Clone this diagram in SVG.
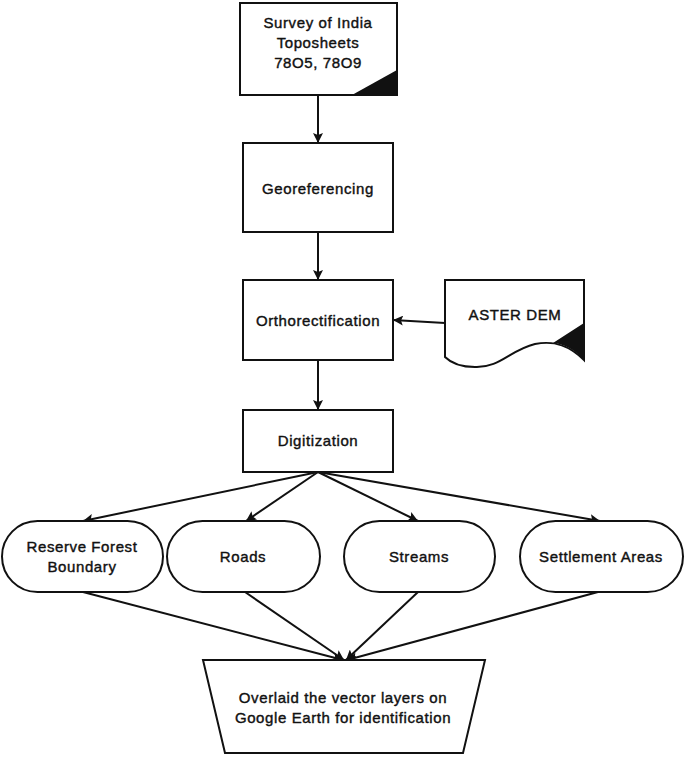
<svg xmlns="http://www.w3.org/2000/svg" width="685" height="758" viewBox="0 0 685 758">
<defs>
<marker id="ah" viewBox="0 0 10 10" refX="10" refY="5" markerWidth="10" markerHeight="10" markerUnits="userSpaceOnUse" orient="auto">
<path d="M0,0 L10,5 L0,10 L2,5 Z" fill="#111"/>
</marker>
</defs>
<style>
.s{fill:#fff;stroke:#111;stroke-width:2}
.t{font-family:"Liberation Sans",Arial,sans-serif;font-size:15px;letter-spacing:0.6px;fill:#111;stroke:#111;stroke-width:0.4;text-anchor:middle}
.c{fill:none;stroke:#111;stroke-width:2;marker-end:url(#ah)}
.dk{fill:#111;stroke:none}
</style>
<rect width="685" height="758" fill="#fff"/>
<g id="connectors">
<line class="c" x1="318" y1="95" x2="318" y2="143"/>
<line class="c" x1="318" y1="232" x2="318" y2="280"/>
<line class="c" x1="318" y1="360" x2="318" y2="410"/>
<line class="c" x1="445" y1="323" x2="393" y2="320"/>
<line class="c" x1="318" y1="472" x2="83" y2="521"/>
<line class="c" x1="318" y1="472" x2="246" y2="521"/>
<line class="c" x1="318" y1="472" x2="418" y2="521"/>
<line class="c" x1="318" y1="472" x2="600" y2="521"/>
<line class="c" x1="83" y1="592" x2="343" y2="660"/>
<line class="c" x1="245" y1="592" x2="344" y2="660"/>
<line class="c" x1="418" y1="592" x2="346" y2="660"/>
<line class="c" x1="598" y1="592" x2="347" y2="660"/>
</g>
<g id="toposheets">
<rect class="s" x="240" y="3" width="157" height="92"/>
<path class="dk" d="M352,95 L397,70 L397,95 Z"/>
<text class="t" x="318" y="28">Survey of India</text>
<text class="t" x="318" y="48">Toposheets</text>
<text class="t" x="318" y="68">78O5, 78O9</text>
</g>
<g id="georeferencing">
<rect class="s" x="243" y="143" width="150" height="89"/>
<text class="t" x="318" y="194">Georeferencing</text>
</g>
<g id="orthorectification">
<rect class="s" x="243" y="280" width="150" height="80"/>
<text class="t" x="318" y="326">Orthorectification</text>
</g>
<g id="aster-dem">
<path class="s" d="M445,280 L584,280 L584,360 C570,346 555,340 535,344 C510,350 500,368 475,367 C460,367 450,362 445,357 Z"/>
<path class="dk" d="M553,343 L584,323 L584,360 C575,350 565,344 553,343 Z"/>
<text class="t" x="515" y="320">ASTER DEM</text>
</g>
<g id="digitization">
<rect class="s" x="243" y="410" width="150" height="62"/>
<text class="t" x="318" y="446">Digitization</text>
</g>
<g id="reserve-forest">
<rect class="s" x="2" y="521" width="161" height="71" rx="35.5"/>
<text class="t" x="82" y="552">Reserve Forest</text>
<text class="t" x="82" y="572">Boundary</text>
</g>
<g id="roads">
<rect class="s" x="167" y="521" width="153" height="71" rx="35.5"/>
<text class="t" x="243" y="562">Roads</text>
</g>
<g id="streams">
<rect class="s" x="344" y="521" width="151" height="71" rx="35.5"/>
<text class="t" x="419" y="562">Streams</text>
</g>
<g id="settlement">
<rect class="s" x="520" y="521" width="163" height="71" rx="35.5"/>
<text class="t" x="601" y="562">Settlement Areas</text>
</g>
<g id="overlay">
<path class="s" d="M203,660 L485,660 L463,753 L225,753 Z"/>
<text class="t" x="343" y="703">Overlaid the vector layers on</text>
<text class="t" x="343" y="723">Google Earth for identification</text>
</g>
</svg>
